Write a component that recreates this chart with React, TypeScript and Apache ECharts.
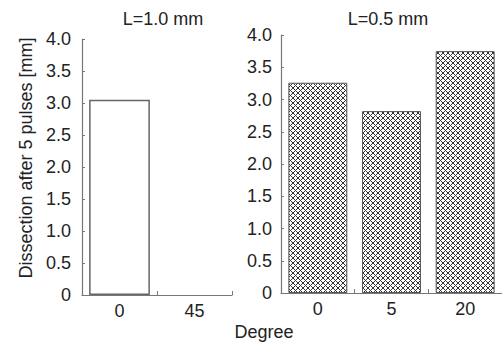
import React, { useEffect, useRef } from 'react';
import * as echarts from 'echarts';

const yMin = 0;
const yMax = 4;
const yStep = 0.5;
const titleA = 'L=1.0 mm';
const titleB = 'L=0.5 mm';
const categoriesA = ['0', '45'];
const valuesA: (number | null)[] = [3.05, null];
const categoriesB = ['0', '5', '20'];
const valuesB = [3.26, 2.82, 3.75];
const xName = 'Degree';
const yName = 'Dissection after 5 pulses [mm]';

const FONT = 'Liberation Sans, Arial, sans-serif';
const TXT = '#222';
const AX = '#777';

function makePattern() {
  const p = 5;
  const c = document.createElement('canvas');
  c.width = p;
  c.height = p;
  const ctx = c.getContext('2d')!;
  ctx.fillStyle = '#fff';
  ctx.fillRect(0, 0, p, p);
  ctx.fillStyle = '#333';
  for (let x = 0; x < p; x++) {
    for (let y = 0; y < p; y++) {
      if ((x + y) % p === 0 || (x - y + p) % p === 0) ctx.fillRect(x, y, 1, 1);
    }
  }
  return { image: c, repeat: 'repeat', imageWidth: p, imageHeight: p } as any;
}

export default function App() {
  const ref = useRef<HTMLDivElement>(null);
  useEffect(() => {
    if (!ref.current) return;
    const chart = echarts.init(ref.current, null, { renderer: 'svg' });
    const yAxisCommon = (margin: number) => ({
      type: 'value',
      min: yMin,
      max: yMax,
      interval: yStep,
      splitLine: { show: false },
      axisLine: { show: true, lineStyle: { color: AX, width: 1.2 } },
      axisTick: { show: true, inside: true, length: 3, lineStyle: { color: AX } },
      axisLabel: {
        margin,
        fontSize: 18,
        fontFamily: FONT,
        color: TXT,
        formatter: (v: number) => (v === 0 ? '0' : v.toFixed(1)),
      },
    });
    const xAxisCommon = (cats: string[], idx: number) => ({
      type: 'category',
      data: cats,
      gridIndex: idx,
      axisLine: { show: true, lineStyle: { color: AX, width: 1.2 } },
      axisTick: { show: true, inside: true, length: 4, lineStyle: { color: AX } },
      axisLabel: { margin: 7, fontSize: 18, fontFamily: FONT, color: TXT },
    });
    chart.setOption({
      animation: false,
      backgroundColor: '#fff',
      grid: [
        { left: 82, top: 39, width: 150, height: 256 },
        { left: 281, top: 35, width: 225, height: 258 },
      ],
      xAxis: [xAxisCommon(categoriesA, 0), xAxisCommon(categoriesB, 1)],
      yAxis: [
        { ...yAxisCommon(11), gridIndex: 0 },
        { ...yAxisCommon(9), gridIndex: 1 },
      ],
      series: [
        {
          type: 'bar',
          xAxisIndex: 0,
          yAxisIndex: 0,
          data: valuesA,
          barCategoryGap: '19%',
          itemStyle: { color: '#fff', borderColor: '#666', borderWidth: 1.5 },
        },
        {
          type: 'bar',
          xAxisIndex: 1,
          yAxisIndex: 1,
          data: valuesB,
          barCategoryGap: '20%',
          itemStyle: { color: makePattern(), borderColor: '#555', borderWidth: 1 },
        },
      ],
      graphic: [
        { type: 'text', x: 163, y: 19, style: { text: titleA, fontSize: 18, fontFamily: FONT, fill: TXT, align: 'center', verticalAlign: 'middle' } },
        { type: 'text', x: 388, y: 19, style: { text: titleB, fontSize: 18, fontFamily: FONT, fill: TXT, align: 'center', verticalAlign: 'middle' } },
        { type: 'text', x: 264, y: 332, style: { text: xName, fontSize: 18, fontFamily: FONT, fill: TXT, align: 'center', verticalAlign: 'middle' } },
        { type: 'text', x: 26, y: 158, rotation: Math.PI / 2, style: { text: yName, fontSize: 18, fontFamily: FONT, fill: TXT, align: 'center', verticalAlign: 'middle' } },
      ],
    });
    return () => chart.dispose();
  }, []);
  return <div ref={ref} style={{ position: 'fixed', left: 0, top: 0, width: 502, height: 344 }} />;
}
